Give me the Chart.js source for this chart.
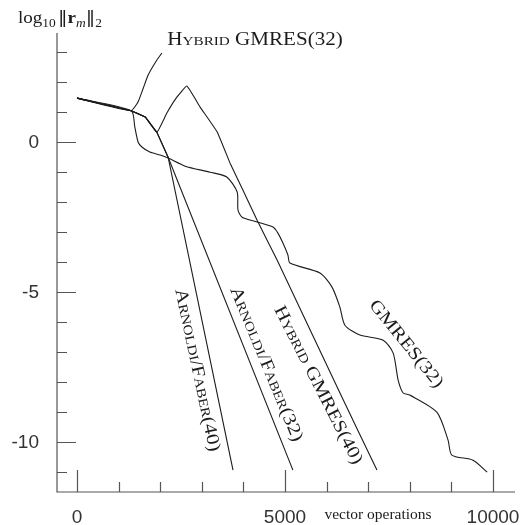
<!DOCTYPE html>
<html>
<head>
<meta charset="utf-8">
<script src="https://cdn.jsdelivr.net/npm/chart.js@4/dist/chart.umd.min.js"></script>
<style>
  html, body { margin: 0; padding: 0; background: #fff; }
  #wrap { width: 521px; height: 525px; position: relative; }
</style>
</head>
<body>
<div id="wrap"><canvas id="resChart"></canvas></div>
<script>
// common start of all runs
const startX = [0, 1300]
const startY = [1.45, 1.03]

// GMRES(32)
const gmres32X = [1390, 1470, 1560, 1750, 2000, 2190, 2600, 3200, 3600, 3850, 3870, 3970, 4330, 4710, 4830, 4950, 5070, 5120, 5840, 6130, 6320, 6440, 6800, 7360, 7600, 7720, 7840, 8000, 8650, 8920, 9010, 9520, 9860]
const gmres32Y = [0.48, -0.02, -0.18, -0.35, -0.45, -0.55, -0.82, -1.02, -1.18, -1.68, -2.28, -2.52, -2.68, -2.85, -3.05, -3.38, -3.78, -4.05, -4.38, -4.85, -5.52, -6.12, -6.45, -6.62, -7.05, -7.95, -8.38, -8.45, -9.02, -9.95, -10.45, -10.62, -11.02]

// Hybrid GMRES(32) (diverges)
const hybrid32X = [1470, 1590, 1710, 1920, 2040]
const hybrid32Y = [1.33, 1.77, 2.22, 2.72, 2.95]

// shared part of the Arnoldi/Faber runs
const arnoldiX = [1640, 1920]
const arnoldiY = [0.82, 0.31]

// Hybrid GMRES(40)
const hybrid40X = [2160, 2400, 2640, 2960, 3370, 3680, 3990, 4330, 4810, 6370, 7210]
const hybrid40Y = [0.95, 1.48, 1.85, 1.15, 0.32, -0.72, -1.62, -2.62, -3.95, -8.52, -10.95]

// Arnoldi/Faber(40) and (32)
const faber40X = [2190, 3750]
const faber40Y = [-0.52, -10.95]
const faber32X = [2190, 5190]
const faber32Y = [-0.52, -10.95]

// axes
const xTickValues = [0, 5000, 10000]
const xTickLabels = ['0', '5000', '10000']
const yTickValues = [0, -5, -10]
const yTickLabels = ['0', '-5', '-10']

const curveLabels = [
    { text: 'Hybrid GMRES(32)', x: 4279, y: 3.38, angle: 0 },
    { text: 'Arnoldi/Faber(40)', x: 2885, y: -7.62, angle: 78 },
    { text: 'Arnoldi/Faber(32)', x: 4543, y: -7.42, angle: 67.5 },
    { text: 'Hybrid GMRES(40)', x: 5793, y: -8.12, angle: 63 },
    { text: 'GMRES(32)', x: 7909, y: -6.75, angle: 51 },
]

const toPoints = (xs, ys) => xs.map((x, i) => ({ x: x, y: ys[i] }))
const series = (xs, ys) => toPoints(startX.concat(xs), startY.concat(ys))

const ink = '#1c1c1c'
const axisInk = '#555'

const lineStyle = {
    borderColor: ink,
    borderWidth: 1.1,
    pointRadius: 0,
    fill: false,
}

const paperAxes = {
    id: 'paperAxes',
    afterDraw(chart) {
        const { ctx, chartArea, scales } = chart
        const xs = scales.x, ys = scales.y
        const left = chartArea.left, bottom = chartArea.bottom
        ctx.save()
        ctx.strokeStyle = axisInk
        ctx.lineWidth = 1.2
        ctx.beginPath()
        ctx.moveTo(left, chartArea.top)
        ctx.lineTo(left, bottom)
        ctx.lineTo(chartArea.right, bottom)
        ctx.stroke()

        // y ticks, one per unit
        ctx.beginPath()
        for (let v = 3; v >= -11; v--) {
            const py = Math.round(ys.getPixelForValue(v)) + 0.5
            ctx.moveTo(left, py)
            ctx.lineTo(left + (v % 5 === 0 ? 19 : 10), py)
        }
        // x ticks, every 1000
        for (let v = 0; v <= 10000; v += 1000) {
            const px = Math.round(xs.getPixelForValue(v)) + 0.5
            ctx.moveTo(px, bottom)
            ctx.lineTo(px, bottom - (v % 5000 === 0 ? 22 : 10))
        }
        ctx.stroke()

        // tick labels
        ctx.fillStyle = '#333'
        ctx.font = '19px "Liberation Sans", sans-serif'
        ctx.textBaseline = 'middle'
        ctx.textAlign = 'right'
        yTickValues.forEach((v, i) => ctx.fillText(yTickLabels[i], left - 18, ys.getPixelForValue(v) + 1))
        ctx.textAlign = 'center'
        xTickValues.forEach((v, i) => ctx.fillText(xTickLabels[i], xs.getPixelForValue(v), bottom + 26))

        // x axis title
        ctx.fillStyle = ink
        ctx.font = '15.5px "Liberation Serif", serif'
        ctx.fillText('vector operations', 378, bottom + 23)

        // y axis title: log10 ||r_m||_2
        ctx.save()
        ctx.translate(18, 23)
        ctx.scale(1.12, 1)
        ctx.textAlign = 'left'
        ctx.textBaseline = 'alphabetic'
        let cx = 0
        const run = (t, font, dy) => {
            ctx.font = font
            ctx.fillText(t, cx, dy)
            cx += ctx.measureText(t).width
        }
        run('log', '17px "Liberation Serif", serif', 0)
        run('10', '12px "Liberation Serif", serif', 4)
        cx += 2
        run('\u2016', '17px "DejaVu Serif", serif', 0)
        run('r', 'bold 17px "Liberation Serif", serif', 0)
        run('m', 'italic 12px "Liberation Serif", serif', 4)
        run('\u2016', '17px "DejaVu Serif", serif', 0)
        run('2', '12px "Liberation Serif", serif', 4)
        ctx.restore()

        // curve labels
        ctx.textAlign = 'center'
        ctx.textBaseline = 'middle'
        curveLabels.forEach(l => {
            ctx.save()
            ctx.translate(xs.getPixelForValue(l.x), ys.getPixelForValue(l.y))
            ctx.rotate(l.angle * Math.PI / 180)
            ctx.scale(1.17, 1)
            ctx.font = 'small-caps 18px "Liberation Serif", serif'
            if ('fontVariantCaps' in ctx) ctx.fontVariantCaps = 'small-caps'
            ctx.fillText(l.text, 0, 0)
            ctx.restore()
        })
        ctx.restore()
    }
}

const config = {
    type: 'line',
    data: {
        datasets: [
            { label: 'GMRES(32)', data: series(gmres32X, gmres32Y), ...lineStyle, tension: 0.25 },
            { label: 'Hybrid GMRES(32)', data: series(hybrid32X, hybrid32Y), ...lineStyle, tension: 0.15 },
            { label: 'Hybrid GMRES(40)', data: series(arnoldiX.concat(hybrid40X), arnoldiY.concat(hybrid40Y)), ...lineStyle, tension: 0.1 },
            { label: 'Arnoldi/Faber(40)', data: series(arnoldiX.concat(faber40X), arnoldiY.concat(faber40Y)), ...lineStyle, tension: 0 },
            { label: 'Arnoldi/Faber(32)', data: series(arnoldiX.concat(faber32X), arnoldiY.concat(faber32Y)), ...lineStyle, tension: 0 },
        ]
    },
    options: {
        responsive: true,
        maintainAspectRatio: false,
        animation: false,
        layout: { padding: { left: 57, right: 6, top: 33, bottom: 33 } },
        scales: {
            x: { type: 'linear', display: false, min: -481, max: 10529 },
            y: { type: 'linear', display: false, min: -11.68, max: 3.62 }
        },
        plugins: {
            legend: { display: false },
            tooltip: { enabled: false }
        }
    },
    plugins: [paperAxes]
}

const ctx = document.getElementById('resChart').getContext('2d')
new Chart(ctx, config)
</script>
</body>
</html>
